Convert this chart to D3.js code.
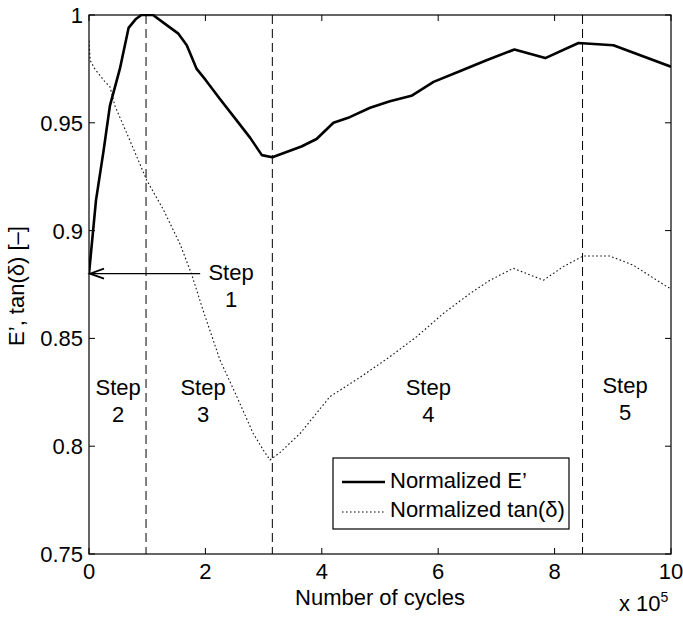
<!DOCTYPE html>
<html>
<head>
<meta charset="utf-8">
<script src="https://cdn.jsdelivr.net/npm/d3@7"></script>
<style>
  html, body { margin: 0; padding: 0; background: #fff; }
  svg text { font-family: "Liberation Sans", Arial, Helvetica, sans-serif; fill: #000; }
</style>
</head>
<body>
<svg id="chart" width="683" height="617"></svg>
<script>
// ---- Data (x in units of 10^5 cycles) ----
const eX = [0, 0.12, 0.25, 0.36, 0.53, 0.68, 0.8, 0.9, 1.1, 1.3, 1.53, 1.68, 1.85, 2.0, 2.25, 2.54, 2.77, 2.97, 3.15, 3.65, 3.91, 4.2, 4.48, 4.83, 5.17, 5.54, 5.92, 6.38, 6.83, 7.31, 7.84, 8.41, 9.01, 10.0];
const eY = [0.880, 0.914, 0.937, 0.958, 0.975, 0.994, 0.998, 1.0, 1.0, 0.996, 0.9915, 0.986, 0.975, 0.970, 0.961, 0.951, 0.943, 0.935, 0.934, 0.939, 0.9425, 0.950, 0.9526, 0.957, 0.960, 0.9625, 0.969, 0.974, 0.979, 0.984, 0.980, 0.987, 0.986, 0.976];
const tX = [0, 0.02, 0.1, 0.275, 0.36, 0.45, 0.70, 0.99, 1.28, 1.56, 1.76, 1.96, 2.25, 2.54, 2.82, 3.0, 3.11, 3.28, 3.63, 4.14, 4.66, 5.17, 5.63, 6.09, 6.55, 6.89, 7.29, 7.81, 8.15, 8.49, 8.95, 9.35, 9.93, 10.0];
const tY = [0.988, 0.979, 0.975, 0.969, 0.9667, 0.9575, 0.942, 0.9235, 0.9096, 0.894, 0.880, 0.863, 0.840, 0.823, 0.806, 0.798, 0.7936, 0.797, 0.806, 0.823, 0.832, 0.8415, 0.8508, 0.8616, 0.8709, 0.877, 0.8825, 0.877, 0.8833, 0.8882, 0.8882, 0.884, 0.874, 0.873];
const stepBoundaries = [0.98, 3.15, 8.48];
const xTicks = [0, 2, 4, 6, 8, 10];
const yTicks = [0.75, 0.8, 0.85, 0.9, 0.95, 1];
const yTickLabels = ["0.75", "0.8", "0.85", "0.9", "0.95", "1"];
const stepNames = ["1", "2", "3", "4", "5"];
const stepLabelX = [2.44, 0.5, 1.96, 5.83, 9.21];
const stepLabelY = [0.877, 0.8238, 0.8238, 0.8238, 0.8245];
const arrowFrom = [1.91, 0.880];
const arrowTo = [0, 0.880];
const seriesNames = ["Normalized E\u2019", "Normalized tan(\u03b4)"];

// ---- Layout ----
const svg = d3.select("#chart");
const pL = 89, pR = 671, pT = 15, pB = 554;
const x = d3.scaleLinear().domain([0, 10]).range([pL, pR]);
const y = d3.scaleLinear().domain([0.75, 1]).range([pB, pT]);
const FS = 22;

svg.append("defs").append("clipPath").attr("id", "clip")
  .append("rect").attr("x", pL).attr("y", pT - 1).attr("width", pR - pL).attr("height", pB - pT + 1);

// Step boundaries (dashed)
svg.append("g").selectAll("line").data(stepBoundaries).join("line")
  .attr("x1", d => x(d)).attr("x2", d => x(d))
  .attr("y1", y(1)).attr("y2", y(0.75))
  .attr("stroke", "#000").attr("stroke-width", 1).attr("stroke-dasharray", "9,5");

const plot = svg.append("g").attr("clip-path", "url(#clip)");
const line = d3.line().x(d => x(d[0])).y(d => y(d[1]));

plot.append("path").datum(tX.map((v, i) => [v, tY[i]]))
  .attr("d", line).attr("fill", "none").attr("stroke", "#111")
  .attr("stroke-width", 1.1).attr("stroke-dasharray", "1.6,2.4");

plot.append("path").datum(eX.map((v, i) => [v, eY[i]]))
  .attr("d", line).attr("fill", "none").attr("stroke", "#000")
  .attr("stroke-width", 2.6).attr("stroke-linejoin", "round");

// Axes box
svg.append("rect").attr("x", pL).attr("y", pT).attr("width", pR - pL).attr("height", pB - pT)
  .attr("fill", "none").attr("stroke", "#000").attr("stroke-width", 1.2);

// Ticks (inside, mirrored)
const tl = 6;
const xt = svg.append("g");
xTicks.forEach(t => {
  xt.append("line").attr("x1", x(t)).attr("x2", x(t)).attr("y1", pB).attr("y2", pB - tl).attr("stroke", "#000");
  xt.append("line").attr("x1", x(t)).attr("x2", x(t)).attr("y1", pT).attr("y2", pT + tl).attr("stroke", "#000");
  xt.append("text").attr("x", x(t)).attr("y", 579).attr("text-anchor", "middle").attr("font-size", FS).text(t);
});
const yt = svg.append("g");
yTicks.forEach((t, i) => {
  yt.append("line").attr("x1", pL).attr("x2", pL + tl).attr("y1", y(t)).attr("y2", y(t)).attr("stroke", "#000");
  yt.append("line").attr("x1", pR).attr("x2", pR - tl).attr("y1", y(t)).attr("y2", y(t)).attr("stroke", "#000");
  yt.append("text").attr("x", 83).attr("y", y(t) + 8).attr("text-anchor", "end").attr("font-size", FS).text(yTickLabels[i]);
});

// Axis titles
svg.append("text").attr("x", 380).attr("y", 604.5).attr("text-anchor", "middle")
  .attr("font-size", FS).text("Number of cycles");
const ex = svg.append("text").attr("x", 619).attr("y", 611).attr("font-size", FS);
ex.append("tspan").text("x 10");
ex.append("tspan").attr("font-size", 14).attr("dy", -9).text("5");
svg.append("text").attr("transform", "translate(24,286) rotate(-90)").attr("text-anchor", "middle")
  .attr("font-size", FS).text("E\u2019, tan(\u03b4) [\u2013]");

// Step labels
const sg = svg.append("g");
stepNames.forEach((n, i) => {
  sg.append("text").attr("x", x(stepLabelX[i])).attr("y", y(stepLabelY[i])).attr("text-anchor", "middle").attr("font-size", FS).text("Step");
  sg.append("text").attr("x", x(stepLabelX[i])).attr("y", y(stepLabelY[i]) + 27).attr("text-anchor", "middle").attr("font-size", FS).text(n);
});

// Arrow
const ax0 = x(arrowFrom[0]), ay = y(arrowFrom[1]), ax1 = x(arrowTo[0]);
svg.append("line").attr("x1", ax0).attr("x2", ax1 + 1).attr("y1", ay).attr("y2", ay).attr("stroke", "#000").attr("stroke-width", 1.2);
svg.append("path").attr("d", `M${ax1 + 15},${ay - 5} L${ax1 + 1},${ay} L${ax1 + 15},${ay + 5}`)
  .attr("fill", "none").attr("stroke", "#000").attr("stroke-width", 1.8);

// Legend
const lg = svg.append("g");
lg.append("rect").attr("x", 333).attr("y", 458).attr("width", 236).attr("height", 71)
  .attr("fill", "#fff").attr("stroke", "#000").attr("stroke-width", 1.2);
lg.append("line").attr("x1", 342).attr("x2", 385).attr("y1", 482).attr("y2", 482).attr("stroke", "#000").attr("stroke-width", 2.6);
lg.append("line").attr("x1", 342).attr("x2", 385).attr("y1", 512).attr("y2", 512).attr("stroke", "#111").attr("stroke-width", 1.1).attr("stroke-dasharray", "1.6,2.4");
lg.append("text").attr("x", 390).attr("y", 488).attr("font-size", FS).text(seriesNames[0]);
lg.append("text").attr("x", 390).attr("y", 517).attr("font-size", FS).text(seriesNames[1]);
</script>
</body>
</html>
